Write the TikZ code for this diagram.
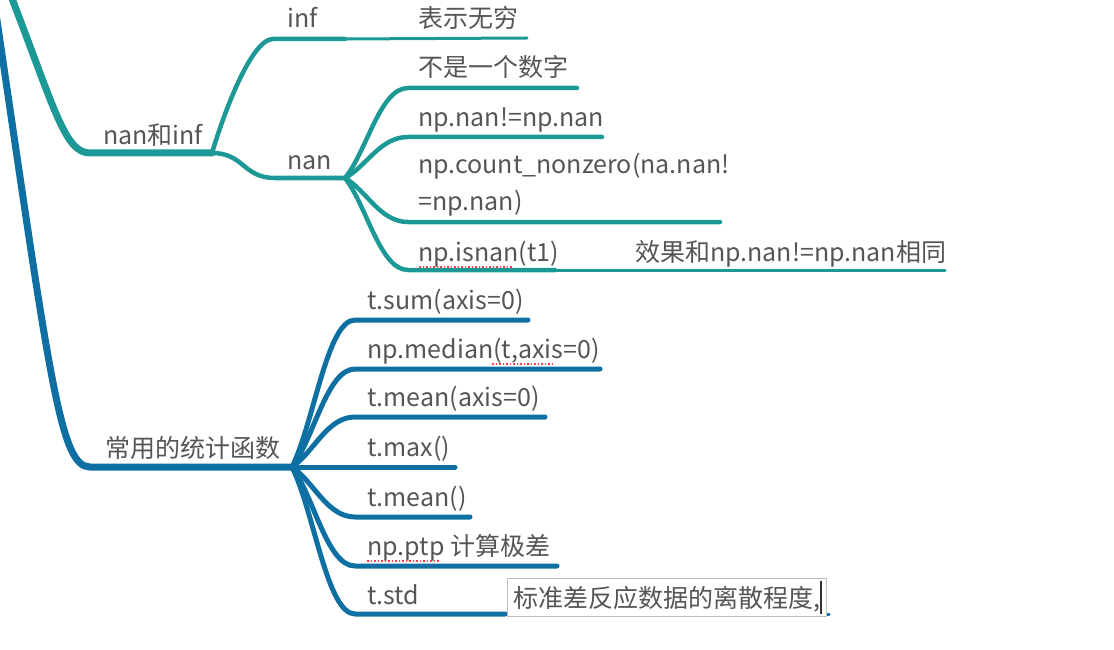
\documentclass[tikz,border=0pt]{standalone}
\usepackage{fontspec}
\setmainfont{Noto Sans CJK SC}
\definecolor{tealc}{RGB}{28,152,150}
\definecolor{bluec}{RGB}{14,112,162}
\definecolor{txtc}{RGB}{85,85,85}
\tikzset{
  tealmain/.style = {draw=tealc, line width=7pt, line cap=round},
  tealkid/.style  = {draw=tealc, line width=4.5pt, line cap=round},
  tealleaf/.style = {draw=tealc, line width=3pt, line cap=round},
  bluemain/.style = {draw=bluec, line width=7pt, line cap=round},
  bluekid/.style  = {draw=bluec, line width=5pt, line cap=round},
  blueleaf/.style = {draw=bluec, line width=3pt, line cap=round},
  lbl/.style      = {anchor=base west, inner sep=0pt, text=txtc,
                     font=\fontsize{25}{37}\selectfont},
  spell/.style    = {draw=red!75, dotted, line width=1.5pt},
  notebox/.style  = {anchor=north west, draw=black!25, fill=white, line width=1pt,
                     inner xsep=5pt, inner ysep=6pt, text height=23pt, text depth=3pt,
                     text=txtc, font=\fontsize{25}{30}\selectfont},
}
\begin{document}
\begin{tikzpicture}[x=1pt, y=1pt]
    \useasboundingbox (0,0) rectangle (1114,-650);

    % teal branch: nan and inf
    \coordinate (tTop) at (11,4);
    \coordinate (nanInfS) at (90,-153);
    \coordinate (nanInfE) at (212,-153);
    \coordinate (infS) at (273,-39);
    \coordinate (infE) at (345,-39);
    \coordinate (wuqiongE) at (527,-38);
    \coordinate (nanS) at (275,-178);
    \coordinate (nanE) at (345,-178);
    \coordinate (noNumS) at (408,-88);
    \coordinate (noNumE) at (577,-88);
    \coordinate (neS) at (408,-137);
    \coordinate (neE) at (602,-137);
    \coordinate (countS) at (408,-222);
    \coordinate (countE) at (720,-222);
    \coordinate (isnanS) at (408,-270);
    \coordinate (isnanE) at (555,-270);
    \coordinate (sameE) at (945,-270);

    \draw[tealmain] (tTop) .. controls (55,-110) and (65,-153) .. (nanInfS) -- (nanInfE);
    \draw[tealkid] (nanInfE) .. controls +(15,50) and +(-20,0) .. (infS) -- (infE);
    \draw[tealleaf] (infE) -- (wuqiongE);
    \draw[tealkid] (nanInfE) .. controls +(32,0) and +(-32,0) .. (nanS) -- (nanE);
    \draw[tealkid] (nanE) .. controls +(22,27) and +(-28,0) .. (noNumS) -- (noNumE);
    \draw[tealkid] (nanE) .. controls +(22,12) and +(-28,0) .. (neS) -- (neE);
    \draw[tealkid] (nanE) .. controls +(22,-13) and +(-28,0) .. (countS) -- (countE);
    \draw[tealkid] (nanE) .. controls +(22,-28) and +(-28,0) .. (isnanS) -- (isnanE);
    \draw[tealleaf] (isnanE) -- (sameE);

    \node[lbl] (nanInfL) at (103,-145) {nan和inf};
    \node[lbl] (infL) at (287,-28) {inf};
    \node[lbl] (wuqiongL) at (418,-28) {表示无穷};
    \node[lbl] (nanL) at (287,-169) {nan};
    \node[lbl] (noNumL) at (418,-77) {不是一个数字};
    \node[lbl] (neL) at (418,-127) {np.nan!=np.nan};
    \node[lbl, align=left] (countL) at (418,-210) {np.count\_nonzero(na.nan!\\=np.nan)};
    \node[lbl] (isnanL) at (418,-261) {np.isnan(t1)};
    \node[lbl] (sameL) at (635,-261) {效果和np.nan!=np.nan相同};
    \draw[spell] (419,-267) -- (512,-267);

    % blue branch: statistics functions
    \coordinate (bTop) at (-6,0);
    \coordinate (statS) at (90,-467);
    \coordinate (statE) at (292,-467);
    \coordinate (sumS) at (355,-320);
    \coordinate (sumE) at (528,-320);
    \coordinate (medianS) at (355,-369);
    \coordinate (medianE) at (600,-369);
    \coordinate (meanAxS) at (355,-417);
    \coordinate (meanAxE) at (545,-417);
    \coordinate (maxS) at (355,-467);
    \coordinate (maxE) at (455,-467);
    \coordinate (meanS) at (355,-517);
    \coordinate (meanE) at (470,-517);
    \coordinate (ptpS) at (355,-566);
    \coordinate (ptpE) at (557,-566);
    \coordinate (stdS) at (355,-614);
    \coordinate (stdE) at (505,-614);
    \coordinate (noteE) at (829,-614);

    \draw[bluemain] (bTop) .. controls (50,-380) and (60,-467) .. (statS) -- (statE);
    \draw[bluekid] (statE) .. controls +(22,44) and +(-28,0) .. (sumS) -- (sumE);
    \draw[bluekid] (statE) .. controls +(22,29) and +(-28,0) .. (medianS) -- (medianE);
    \draw[bluekid] (statE) .. controls +(22,15) and +(-28,0) .. (meanAxS) -- (meanAxE);
    \draw[bluekid] (statE) -- (maxS) -- (maxE);
    \draw[bluekid] (statE) .. controls +(22,-15) and +(-28,0) .. (meanS) -- (meanE);
    \draw[bluekid] (statE) .. controls +(22,-30) and +(-28,0) .. (ptpS) -- (ptpE);
    \draw[bluekid] (statE) .. controls +(22,-44) and +(-28,0) .. (stdS) -- (stdE);
    \draw[blueleaf] (stdE) -- (noteE);

    \node[lbl] (statL) at (105,-457) {常用的统计函数};
    \node[lbl] (sumL) at (367,-309) {t.sum(axis=0)};
    \node[lbl] (medianL) at (367,-358) {np.median(t,axis=0)};
    \node[lbl] (meanAxL) at (367,-406) {t.mean(axis=0)};
    \node[lbl] (maxL) at (367,-456) {t.max()};
    \node[lbl] (meanL) at (367,-506) {t.mean()};
    \node[lbl] (ptpL) at (367,-555) {np.ptp 计算极差};
    \node[lbl] (stdL) at (367,-604) {t.std};
    \draw[spell] (492,-364) -- (553,-364);
    \draw[spell] (367,-561) -- (440,-561);

    \node[notebox, minimum width=319pt] (stdNote) at (507,-578) {标准差反应数据的离散程度,};
    \draw[black!80, line width=1.2pt] ([xshift=-6pt,yshift=-3pt]stdNote.north east) -- ([xshift=-6pt,yshift=3pt]stdNote.south east);
\end{tikzpicture}
\end{document}
